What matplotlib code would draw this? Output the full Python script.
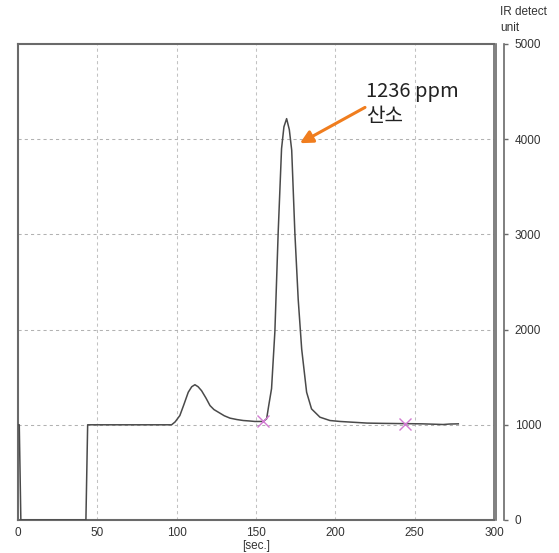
import matplotlib
matplotlib.use("Agg")
import matplotlib.pyplot as plt
import matplotlib.transforms as mtransforms

# IR detector signal over time (seconds, detector units)
time_s = [0, 0.8, 1.8, 42.8, 43.9, 60, 80, 96.8, 99, 102, 104.5, 107.3, 109.5,
          111.5, 113.5, 115.7, 118.5, 121, 123.5, 126.2, 130, 133.6, 138, 142,
          146, 149.3, 154.6, 156.7, 158, 159.8, 161.9, 164, 166.1, 167.6, 169.3,
          171, 172.5, 174.5, 176.6, 178.8, 181.9, 185, 190.3, 196.6, 203, 210,
          220, 230, 245, 255, 268, 272, 277.5]
signal = [1000, 1000, 0, 0, 1000, 1000, 1000, 1000, 1030, 1097, 1210, 1342, 1400,
          1421, 1400, 1358, 1280, 1202, 1160, 1133, 1095, 1070, 1055, 1045,
          1040, 1035, 1035, 1063, 1200, 1380, 1980, 3030, 3900, 4130, 4216,
          4100, 3885, 3014, 2317, 1794, 1342, 1167, 1080, 1045, 1035, 1028,
          1018, 1015, 1012, 1010, 1003, 1008, 1010]

# Integration start / end markers
marker_t = [154.6, 244]
marker_v = [1035, 1010]

x_ticks = [0, 50, 100, 150, 200, 250, 300]
y_ticks = [0, 1000, 2000, 3000, 4000, 5000]
x_grid = [50, 100, 150, 200, 250]
y_grid = [1000, 2000, 3000, 4000]

peak_label = "1236 ppm\n산소"
y_unit_label = "IR detect\nunit"
x_unit_label = "[sec.]"

W, H = 559, 553
fig = plt.figure(figsize=(W / 100, H / 100), dpi=100)
ax = fig.add_axes([18 / W, 1 - 520 / H, 476 / W, 476 / H])
ax.set_xlim(0, 300)
ax.set_ylim(0, 5000)

frame_col = "#6a6a6a"
tick_font = ["Liberation Sans", "DejaVu Sans"]

for g in x_grid:
    ax.axvline(g, color="#c2c2c2", lw=0.75, ls=(0, (3, 3)), zorder=1)
for g in y_grid:
    ax.axhline(g, color="#b2b2b2", lw=0.75, ls=(0, (3, 3)), zorder=1)

ax.plot(time_s, signal, color="#4a4a4a", lw=1.1, zorder=3)
ax.plot(marker_t, marker_v, ls="none", marker="x", ms=9, mew=1.0,
        color="#d27ad2", zorder=4)

# frame
for side in ["left", "top", "bottom"]:
    ax.spines[side].set_color(frame_col)
    ax.spines[side].set_linewidth(1.5)
ax.plot([300, 300], [0, 5000], color=frame_col, lw=1.2, clip_on=False, zorder=5)
off = mtransforms.offset_copy(ax.transData, fig=fig, x=2.2, y=0, units="dots")
ax.plot([300, 300], [0, 5000], color=frame_col, lw=1.2, clip_on=False,
        transform=off, zorder=5)

# y axis on the right, set apart from the frame
ax.yaxis.tick_right()
ax.spines["right"].set_position(("outward", 7))
ax.spines["right"].set_color(frame_col)
ax.spines["right"].set_linewidth(1.2)
ax.set_yticks(y_ticks)
ax.set_yticklabels([str(v) for v in y_ticks])
ax.tick_params(axis="y", direction="out", length=3, width=1.0, color=frame_col,
               pad=5, labelsize=8.5, labelcolor="#333333")

ax.set_xticks(x_ticks)
ax.set_xticklabels([str(v) for v in x_ticks])
ax.tick_params(axis="x", length=0, pad=5, labelsize=8.5, labelcolor="#333333")
for lbl in ax.get_xticklabels() + ax.get_yticklabels():
    lbl.set_family(tick_font)

ax.set_xlabel(x_unit_label, fontsize=8.5, color="#333333", family=tick_font,
              labelpad=1)

fig.text(500 / W, 1 - 6 / H, y_unit_label, ha="left", va="top", fontsize=8.5,
         color="#333333", family=tick_font, linespacing=1.45)

ax.annotate("", xy=(177.7, 3958), xytext=(218.7, 4334),
            arrowprops=dict(arrowstyle="-|>,head_length=0.75,head_width=0.38",
                            color="#f07d1e", lw=2.2, shrinkA=0, shrinkB=0),
            zorder=6)
ax.text(219.5, 4615, peak_label, ha="left", va="top", fontsize=14.5,
        color="#222222", family=["Noto Sans CJK KR", "DejaVu Sans"],
        linespacing=1.3, zorder=6)

fig.savefig("out.png", dpi=100, facecolor="white")
